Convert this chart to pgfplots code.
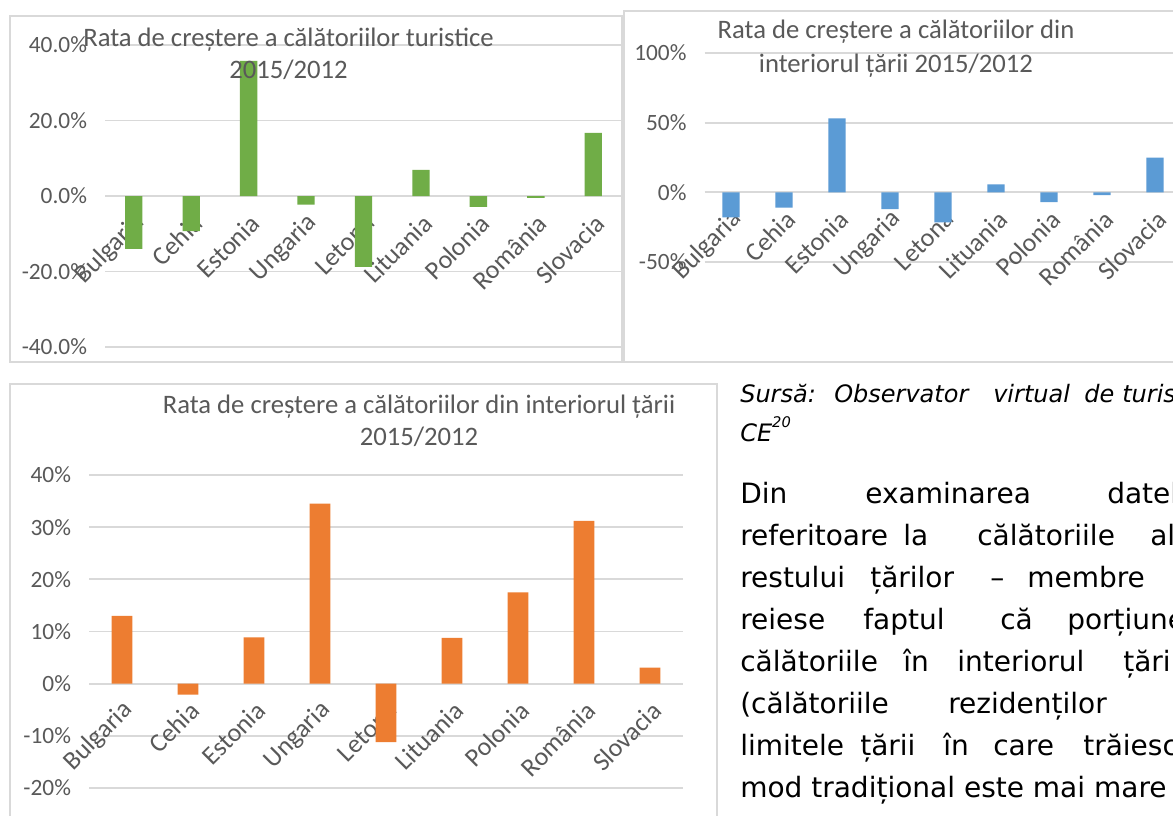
\documentclass[border=0pt]{standalone}
\usepackage{pgfplots}
\pgfplotsset{compat=1.18}
\usepackage{fontspec}
\setmainfont{Carlito}
\newfontfamily\txt{DejaVu Sans}
\definecolor{gridc}{HTML}{D9D9D9}
\definecolor{lab}{HTML}{595959}
\definecolor{cgreen}{HTML}{70AD47}
\definecolor{cblue}{HTML}{5B9BD5}
\definecolor{corange}{HTML}{ED7D31}
\pgfplotsset{
  panel/.style={
    scale only axis,
    ybar,
    xmin=-0.5, xmax=8.5,
    xtick={0,...,8},
    xticklabels={Bulgaria,Cehia,Estonia,Ungaria,Letona,Lituania,Polonia,România,Slovacia},
    axis line style={draw=none},
    tick style={draw=none},
    major tick length=0pt,
    ymajorgrids,
    grid style={line width=1.3pt, color=gridc},
    yticklabel style={font=\fontsize{17.5}{20}\selectfont, text=lab, anchor=east, xshift=-10pt},
  },
}
\begin{document}
\begin{tikzpicture}
\useasboundingbox (0pt,0pt) rectangle (879.75pt,-611.25pt);
\clip (0pt,0pt) rectangle (879.75pt,-611.25pt);
\fill[white] (0pt,0pt) rectangle (879.75pt,-611.25pt);

% ---------- panel 1 frame
\begin{scope}[x=0.75pt,y=-0.75pt]
\draw[gridc, line width=1.1pt, fill=white] (10,16) rectangle (622,362);
\end{scope}

\begin{axis}[panel,
  at={(78.75pt,-260.25pt)}, anchor=south west,
  width=387.75pt, height=226.5pt,
  ymin=-40, ymax=40,
  ytick={-40,-20,0,20,40},
  yticklabels={-40.0\%,-20.0\%,0.0\%,20.0\%,40.0\%},
  bar width=13pt,
  xticklabel style={font=\fontsize{19.5}{20}\selectfont, text=lab, xshift=7.5pt, yshift=98.25pt, rotate=45, anchor=east},
]
\addplot[fill=cgreen, draw=none] coordinates {
 (0,-14.0) (1,-9.3) (2,35.8) (3,-2.3) (4,-18.8) (5,6.9) (6,-2.9) (7,-0.5) (8,16.7)};
\end{axis}

% ---------- panel 2 frame
\begin{scope}[x=0.75pt,y=-0.75pt]
\draw[gridc, line width=1.1pt, fill=white] (624,11) rectangle (1190,362);
\end{scope}

\begin{axis}[panel,
  at={(528.375pt,-196.5pt)}, anchor=south west,
  width=357.75pt, height=156.75pt,
  ymin=-50, ymax=100,
  ytick={-50,0,50,100},
  yticklabels={-50\%,0\%,50\%,100\%},
  bar width=13pt,
  xticklabel style={font=\fontsize{19.5}{20}\selectfont, text=lab, xshift=7.5pt, yshift=37.5pt, rotate=45, anchor=east},
]
\addplot[fill=cblue, draw=none] coordinates {
 (0,-18) (1,-11) (2,53) (3,-12) (4,-21.5) (5,5.8) (6,-7) (7,-2) (8,25)};
\end{axis}

% ---------- panel 3 frame
\begin{scope}[x=0.75pt,y=-0.75pt]
\draw[gridc, line width=1.1pt, fill=white] (10,384) rectangle (717,840);
\end{scope}

\begin{axis}[panel,
  at={(66.75pt,-591pt)}, anchor=south west,
  width=445.5pt, height=234.75pt,
  ymin=-20, ymax=40,
  ytick={-20,-10,0,10,20,30,40},
  yticklabels={-20\%,-10\%,0\%,10\%,20\%,30\%,40\%},
  bar width=15.5pt,
  xticklabel style={font=\fontsize{19.5}{20}\selectfont, text=lab, xshift=7.5pt, yshift=63.75pt, rotate=45, anchor=east},
]
\addplot[fill=corange, draw=none] coordinates {
 (0,13.0) (1,-2.1) (2,8.9) (3,34.5) (4,-11.2) (5,8.8) (6,17.5) (7,31.2) (8,3.1)};
\end{axis}

\begin{scope}[x=0.75pt,y=-0.75pt]
% titles
\node[font=\fontsize{20}{24}\selectfont, text=lab, align=center] at (288.5,54)
  {Rata de creștere a călătoriilor turistice\\2015/2012};
\node[font=\fontsize{20}{25.5}\selectfont, text=lab, align=center] at (896,49)
  {Rata de creștere a călătoriilor din\\interiorul țării 2015/2012};
\node[font=\fontsize{20}{24}\selectfont, text=lab, align=center] at (419,421)
  {Rata de creștere a călătoriilor din interiorul țării\\2015/2012};

% text block
\tikzset{it/.style={anchor=base west, inner sep=0pt, font=\txt\itshape\fontsize{18}{20}\selectfont},
         tw/.style={anchor=base west, inner sep=0pt, font=\txt\fontsize{21}{26}\selectfont}}
\node[it] at (740,402) {Sursă:};
\node[it] at (834,402) {Observator};
\node[it] at (993,402) {virtual};
\node[it] at (1084,402) {de};
\node[it] at (1122,402) {turism};
\node[it] at (740,441) {CE\raisebox{1.0ex}{\fontsize{11}{11}\selectfont 20}};

\node[tw] at (740,503) {Din};
\node[tw] at (865,503) {examinarea};
\node[tw] at (1107,503) {datelor};

\node[tw] at (740,545) {referitoare};
\node[tw] at (903,545) {la};
\node[tw] at (977,545) {călătoriile};
\node[tw] at (1150,545) {ale};

\node[tw] at (740,587) {restului};
\node[tw] at (870,587) {țărilor};
\node[tw] at (990,587) {–};
\node[tw] at (1027,587) {membre};

\node[tw] at (740,629) {reiese};
\node[tw] at (863,629) {faptul};
\node[tw] at (1000,629) {că};
\node[tw] at (1067,629) {porțiunea};

\node[tw] at (740,671) {călătoriile};
\node[tw] at (903,671) {în};
\node[tw] at (957,671) {interiorul};
\node[tw] at (1123,671) {țării};

\node[tw] at (740,713) {(călătoriile};
\node[tw] at (948,713) {rezidenților};

\node[tw] at (740,755) {limitele};
\node[tw] at (860,755) {țării};
\node[tw] at (943,755) {în};
\node[tw] at (993,755) {care};
\node[tw] at (1083,755) {trăiesc)};

\node[tw] at (740,797) {mod tradițional este mai mare};
\end{scope}
\end{tikzpicture}
\end{document}
